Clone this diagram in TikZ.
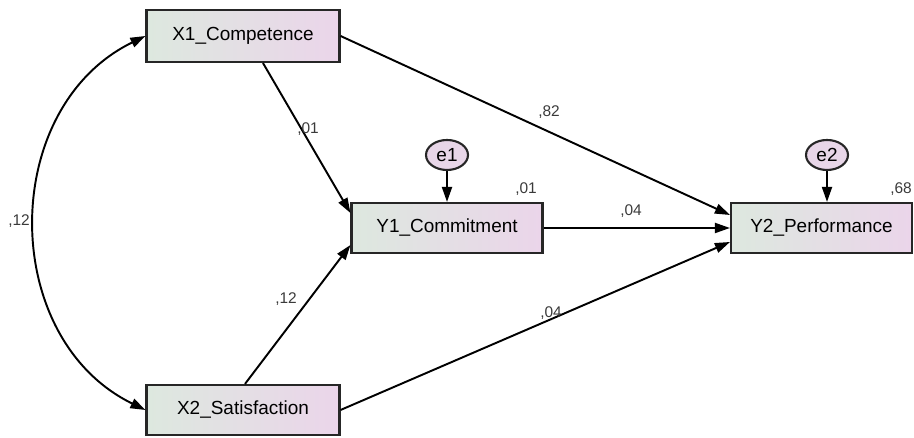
\documentclass[tikz,border=0pt]{standalone}
\usepackage{fontspec}
\setmainfont{Liberation Sans}
\usepackage{tikz}
\usetikzlibrary{shapes,arrows.meta,positioning}

\definecolor{boxleft}{HTML}{DDE8DF}
\definecolor{boxright}{HTML}{EBD5EA}
\definecolor{errfill}{HTML}{E8D6E8}
\definecolor{coef}{HTML}{3A3A3A}

\tikzset{
    var/.style={draw=black!85, line width=1.2pt, left color=boxleft, right color=boxright,
        minimum height=1cm, inner sep=0pt, font=\fontsize{10.8}{12}\selectfont},
    err/.style={ellipse, draw=black!85, line width=1.2pt, fill=errfill, minimum width=0.84cm,
        minimum height=0.6cm, inner sep=0pt, font=\fontsize{10.8}{12}\selectfont},
    path/.style={line width=1.1pt, -{Triangle[length=0.3cm,width=0.2cm]}},
    coeflab/.style={text=coef, font=\fontsize{8.8}{9}\selectfont, inner sep=0pt}
}

\begin{document}
\begin{tikzpicture}
    \useasboundingbox (0,0) rectangle (18.28,8.76);

    % exogenous variables
    \node[var, minimum width=3.86cm, minimum height=1.04cm] (X1) at (4.86,8.04) {X1\_Competence};
    \node[var, minimum width=3.86cm] (X2) at (4.86,0.56) {X2\_Satisfaction};

    % endogenous variables
    \node[var, minimum width=3.82cm] (Y1) at (8.94,4.2) {Y1\_Commitment};
    \node[var, minimum width=3.62cm] (Y2) at (16.43,4.2) {Y2\_Performance};

    % error terms
    \node[err] (e1) at (8.94,5.66) {e1};
    \node[err] (e2) at (16.54,5.66) {e2};

    % paths
    \draw[path] ([xshift=0.4cm]X1.south) -- ([yshift=0.3cm]Y1.west);
    \draw[path] (X1.east) -- ([yshift=0.26cm]Y2.west);
    \draw[path] ([xshift=0.04cm]X2.north) -- ([yshift=-0.34cm]Y1.west);
    \draw[path] (X2.east) -- ([yshift=-0.28cm]Y2.west);
    \draw[path] (Y1.east) -- (Y2.west);
    \draw[path] (e1.south) -- (Y1.north);
    \draw[path] (e2.south) -- (e2.south |- Y2.north);

    % covariance
    \draw[line width=1.1pt, {Triangle[length=0.3cm,width=0.2cm]}-{Triangle[length=0.3cm,width=0.2cm]}]
        (X1.west) to[bend right=64, looseness=1.12] (X2.west);

    % estimates
    \node[coeflab] (c1) at (6.16,6.18) {,01};
    \node[coeflab] (c2) at (10.98,6.52) {,82};
    \node[coeflab] (r1) at (10.52,4.98) {,01};
    \node[coeflab] (c3) at (12.62,4.54) {,04};
    \node[coeflab] (r2) at (18.02,4.98) {,68};
    \node[coeflab] (cv) at (0.38,4.34) {,12};
    \node[coeflab] (c4) at (5.72,2.78) {,12};
    \node[coeflab] (c5) at (11.02,2.5) {,04};
\end{tikzpicture}
\end{document}
